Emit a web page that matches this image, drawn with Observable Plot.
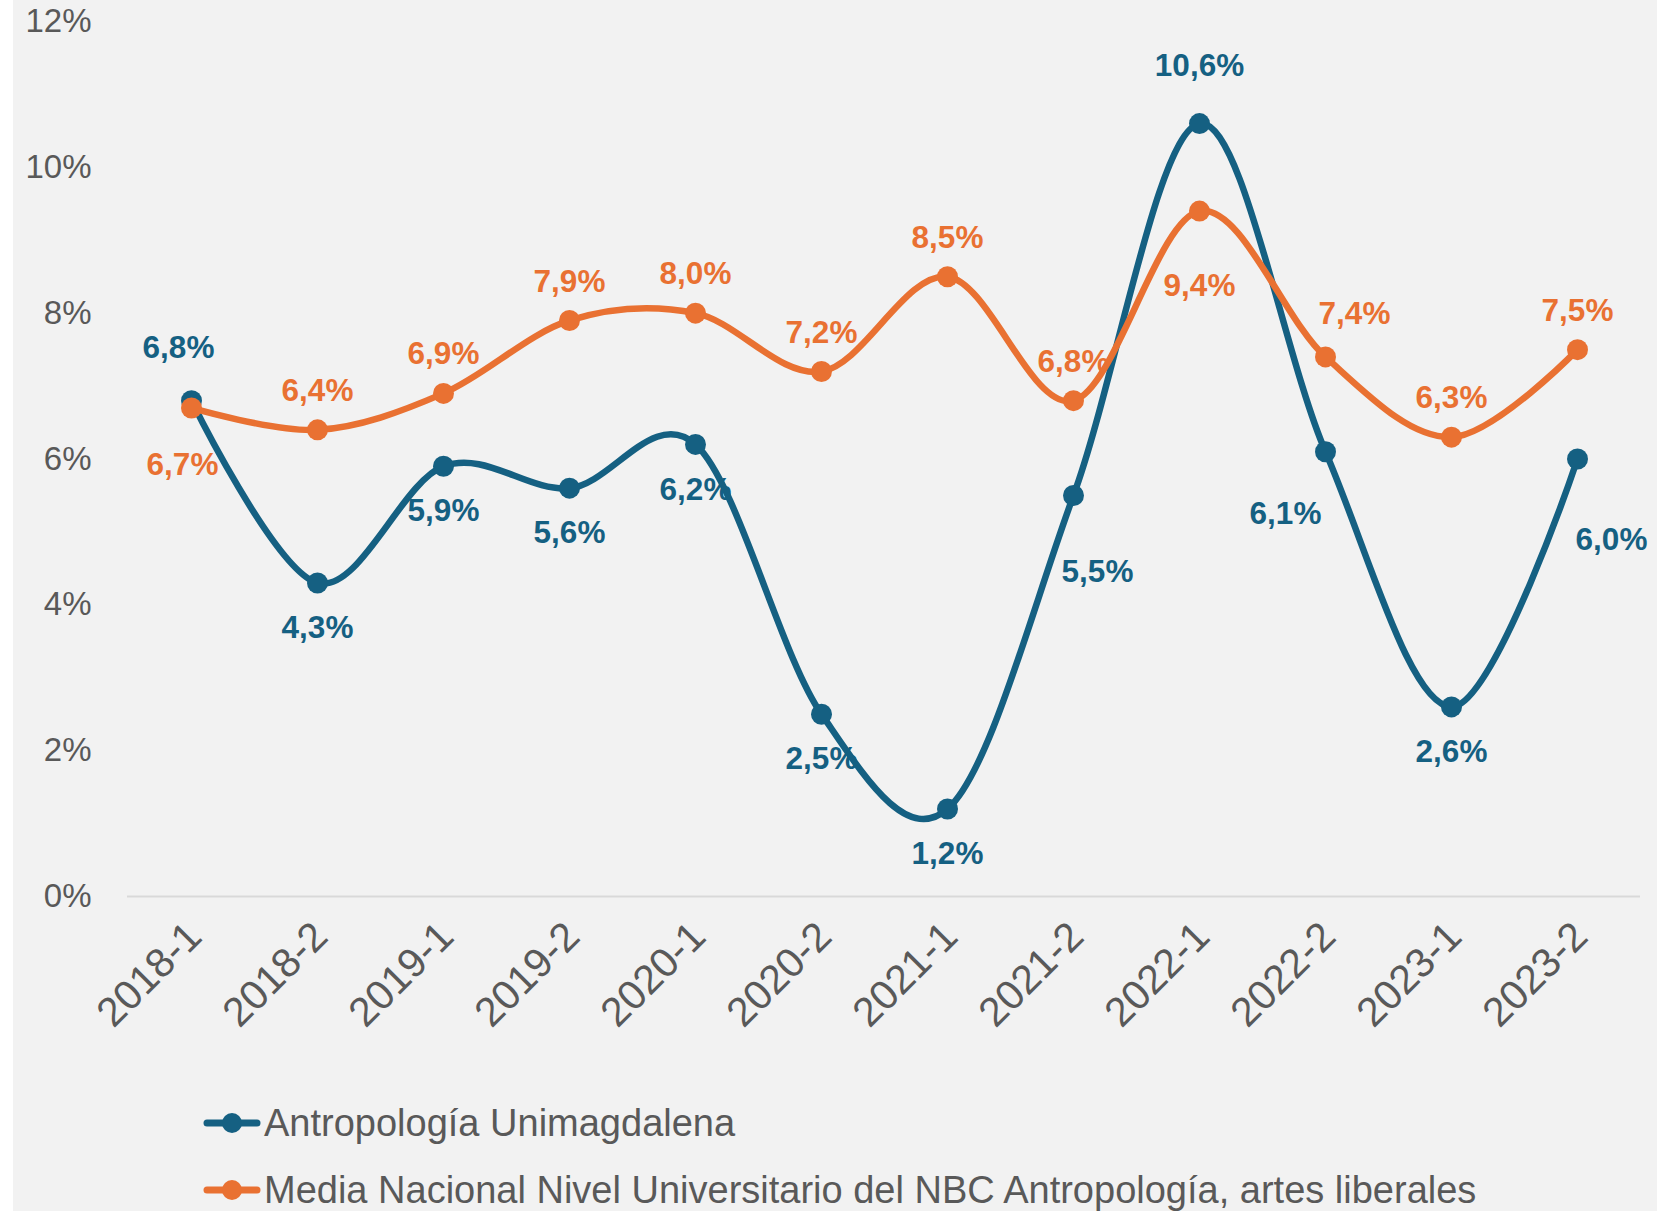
<!DOCTYPE html>
<html>
<head>
<meta charset="utf-8">
<script src="https://cdn.jsdelivr.net/npm/d3@7"></script>
<script src="https://cdn.jsdelivr.net/npm/@observablehq/plot@0.6"></script>
<style>
  html, body { margin: 0; padding: 0; background: #ffffff; }
  #wrap { position: absolute; left: 13px; top: 0; width: 1644px; height: 1211px; background: #f2f2f2; overflow: hidden;
          font-family: "Liberation Sans", Arial, sans-serif; }
  #chart { position: absolute; left: 0; top: 0; }
  .leg { position: absolute; left: 190px; height: 50px; display: flex; align-items: center; white-space: nowrap;
         font-size: 38px; color: #595959; font-family: "Liberation Sans", Arial, sans-serif; }
  .leg svg { display: block; margin-right: 3px; }
</style>
</head>
<body>
<div id="wrap">
  <div id="chart"></div>
  <div id="legend"></div>
</div>
<script>
// ---- data ----
const categories = ["2018-1","2018-2","2019-1","2019-2","2020-1","2020-2","2021-1","2021-2","2022-1","2022-2","2023-1","2023-2"];
const antropologiaUnimagdalena = [6.8, 4.3, 5.9, 5.6, 6.2, 2.5, 1.2, 5.5, 10.6, 6.1, 2.6, 6.0];
const mediaNacional = [6.7, 6.4, 6.9, 7.9, 8.0, 7.2, 8.5, 6.8, 9.4, 7.4, 6.3, 7.5];
const yTicks = [0, 2, 4, 6, 8, 10, 12];
const seriesNames = ["Antropología Unimagdalena", "Media Nacional Nivel Universitario del NBC Antropología, artes liberales"];

// label placement (layout, not data)
const blueLabelPlace = ["nw","s","s","s","s","s","s","se","n","sw","s","se2"];
const orangeLabelPlace = ["sw","n","n","n","n","n","n","n","s2","ne","n","n"];

const BLUE = "#156082";
const ORANGE = "#E97132";
const GRAY = "#595959";

const offsets = {
  n:   {dx: 0,   dy: -58},
  nw:  {dx: -13, dy: -53},
  s:   {dx: 0,   dy: 45},
  se:  {dx: 24,  dy: 76},
  se2: {dx: 34,  dy: 81},
  sw:  {dx: -40, dy: 62},
  s2:  {dx: 0,   dy: 75},
  ne:  {dx: 29,  dy: -43}
};
const orangeOffsets = Object.assign({}, offsets, { n: {dx: 0, dy: -39}, sw: {dx: -9, dy: 57} });

const blueData = categories.map((c, i) => ({cat: c, v: antropologiaUnimagdalena[i], place: blueLabelPlace[i]}));
const orangeData = categories.map((c, i) => ({cat: c, v: mediaNacional[i], place: orangeLabelPlace[i]}));

const fmt = v => v.toFixed(1).replace(".", ",") + "%";

function labelMarks(data, color, offs) {
  const codes = Array.from(new Set(data.map(d => d.place)));
  return codes.map(code => Plot.text(data.filter(d => d.place === code), {
    x: "cat", y: "v", text: d => fmt(d.v),
    dx: offs[code].dx, dy: offs[code].dy,
    fill: color, fontSize: 31.5, fontWeight: "bold",
    fontFamily: "'Liberation Sans', Arial, sans-serif"
  }));
}

const chart = Plot.plot({
  width: 1644,
  height: 1075,
  marginLeft: 114,
  marginRight: 17,
  marginTop: 21,
  marginBottom: 179,
  style: { background: "transparent", color: GRAY, fontFamily: "'Liberation Sans', Arial, sans-serif" },
  x: { type: "point", domain: categories, padding: 0.5, axis: null },
  y: { domain: [0, 12], axis: null },
  marks: [
    Plot.ruleY([0], {stroke: "#d9d9d9", strokeWidth: 2}),
    Plot.axisY(yTicks, {tickSize: 0, tickPadding: 36, tickFormat: d => d + "%", fontSize: 33, label: null, fill: GRAY}),
    Plot.axisX(categories, {tickRotate: -45, tickSize: 0, tickPadding: 33, dx: 3, fontSize: 41, label: null, fill: GRAY}),
    ...labelMarks(blueData, BLUE, offsets),
    ...labelMarks(orangeData, ORANGE, orangeOffsets),
    Plot.line(blueData, {x: "cat", y: "v", stroke: BLUE, strokeWidth: 6.5, curve: "cardinal"}),
    Plot.dot(blueData, {x: "cat", y: "v", r: 10.5, fill: BLUE}),
    Plot.line(orangeData, {x: "cat", y: "v", stroke: ORANGE, strokeWidth: 6.5, curve: "cardinal"}),
    Plot.dot(orangeData, {x: "cat", y: "v", r: 10.5, fill: ORANGE})
  ]
});
document.getElementById("chart").appendChild(chart);

// legend
const legend = document.getElementById("legend");
const legColors = [BLUE, ORANGE];
const legTops = [1098, 1165];
seriesNames.forEach((name, i) => {
  const row = document.createElement("div");
  row.className = "leg";
  row.style.top = legTops[i] + "px";
  row.innerHTML = `<svg width="58" height="24"><line x1="4" y1="12" x2="54" y2="12" stroke="${legColors[i]}" stroke-width="7" stroke-linecap="round"/><circle cx="29" cy="12" r="10" fill="${legColors[i]}"/></svg><span>${name}</span>`;
  legend.appendChild(row);
});
</script>
</body>
</html>
